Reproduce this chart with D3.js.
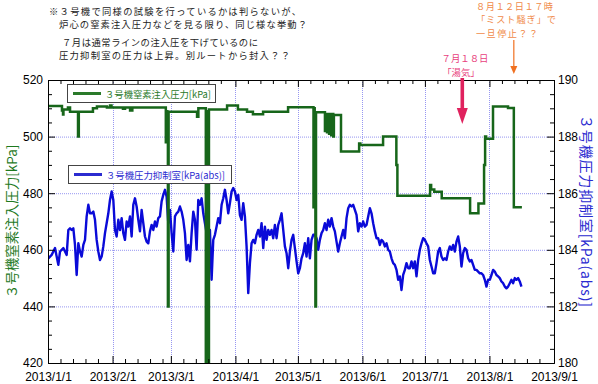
<!DOCTYPE html>
<html><head><meta charset="utf-8">
<script src="https://cdn.jsdelivr.net/npm/d3@7"></script>
<style>body{margin:0;background:#fff}svg{display:block}</style>
</head><body>
<svg id="c" width="598" height="384"></svg>
<script>
// ---------------- data ----------------
const monthTicks = ["2013-01-01","2013-02-01","2013-03-01","2013-04-01","2013-05-01","2013-06-01","2013-07-01","2013-08-01","2013-09-01"];
const minorDays = [7,13,19,25];
const leftTicks = [420,440,460,480,500,520];
const rightTicks = [180,182,184,186,188,190];

const greenName = "３号機窒素注入圧力[kPa]";
const blueName = "３号機圧力抑制室[kPa(abs)]";

// 3号機 窒素注入圧力 [kPa] (step line)
const greenDates = [
 "2013-01-01 00","2013-01-07 17","2013-01-08 05","2013-01-08 10","2013-01-10 14","2013-01-11 14",
 "2013-01-15 10","2013-01-15 19","2013-01-22 14","2013-01-24 12","2013-01-29 07","2013-01-30 19",
 "2013-01-31 12","2013-02-06 00","2013-02-07 00","2013-02-09 10","2013-02-10 12",
 "2013-02-26 14","2013-02-27 00","2013-02-27 07","2013-02-27 14","2013-02-27 22",
 "2013-03-13 14","2013-03-14 05","2013-03-17 19","2013-03-18 07","2013-03-18 19","2013-03-19 07",
 "2013-03-28 00","2013-04-02 05","2013-04-06 14","2013-04-09 10","2013-04-14 07","2013-04-26 07",
 "2013-05-08 12","2013-05-08 19","2013-05-09 02","2013-05-09 10","2013-05-09 17",
 "2013-05-14 00","2013-05-14 12","2013-05-15 00","2013-05-15 12","2013-05-16 00","2013-05-16 12",
 "2013-05-17 00","2013-05-17 12","2013-05-18 00","2013-05-18 07",
 "2013-05-21 17","2013-05-30 10","2013-05-31 00","2013-06-10 22","2013-06-17 07","2013-06-17 19",
 "2013-07-03 12","2013-07-04 00","2013-07-05 12","2013-07-09 02","2013-07-22 17","2013-07-26 17",
 "2013-07-29 10","2013-07-29 22","2013-07-30 10","2013-08-02 17","2013-08-09 22","2013-08-12 17",
 "2013-08-16 14"
];
const greenValues = [
 510.8,509.2,507.8,509.6,510.3,508.8,
 500,508.8,510,510.6,510.3,511,
 510.3,509.8,510.3,509.2,510.3,
 498,509,498,440,508.8,
 507,510,400,509,400,509.6,
 511,509.6,508.8,507.9,508.8,510.4,
 475,510,475,440,508.6,
 502,508,501.5,508,501,508,
 500.5,508,500,507.6,
 494.7,497.6,497.0,500,490,479.1,
 482.9,481.3,480.5,478.2,472.9,476.4,
 490,500,499.2,510.6,510.1,475,
 475
];

// 3号機 圧力抑制室 [kPa(abs)] – read every ~19.2 h
const blueStart = "2013-01-01 04";
const blueStepHours = 19.2;
const blueValues = [
 183.70,183.76,183.82,183.94,184.06,183.76,183.47,183.94,184.00,184.06,183.94,183.82,
 184.70,184.76,184.70,184.76,184.17,183.11,184.23,183.94,183.76,184.17,184.35,185.18,
 185.59,185.29,185.29,185.35,185.06,184.35,183.94,183.64,183.76,184.12,184.59,184.94,
 185.29,185.76,186.06,185.76,184.70,184.47,185.06,184.70,185.12,184.59,184.35,185.00,
 184.82,185.18,184.47,185.59,185.82,185.53,185.06,184.65,185.41,184.94,184.47,184.29,
 184.23,184.65,184.88,184.70,185.00,184.82,185.12,185.18,185.71,185.94,186.12,185.88,
 184.94,185.41,184.59,183.94,
 185.18,185.29,185.35,185.53,185.35,185.06,184.59,183.64,184.17,183.59,184.59,185.35,
 185.06,184.00,185.76,185.59,185.82,185.29,184.94,184.59,184.00,184.70,182.94,184.35,
 184.53,184.82,185.12,184.94,185.59,185.82,186.12,185.76,185.29,185.65,186.06,186.18,
 186.06,185.76,185.94,185.23,185.06,185.65,185.18,184.12,182.47,183.53,184.23,184.35,
 184.23,184.53,184.70,184.47,184.94,184.06,184.82,184.35,184.70,184.53,184.70,184.41,
 184.88,184.41,184.88,185.06,185.29,184.70,184.12,183.88,183.35,183.94,184.35,184.53,
 184.06,183.59,183.17,183.35,183.70,183.88,
 184.23,183.76,184.41,183.70,184.35,184.53,184.53,184.41,184.00,184.35,184.59,184.70,
 184.94,184.70,185.06,184.82,185.12,184.82,184.65,184.29,183.94,184.23,184.47,184.70,
 184.41,185.12,185.47,185.59,185.53,185.59,185.41,185.23,184.65,184.94,184.82,185.00,
 184.82,184.88,185.18,185.47,185.29,184.94,184.65,184.41,184.41,184.17,184.35,184.29,
 184.12,184.23,184.00,183.94,183.70,183.53,183.47,183.29,182.94,183.06,182.58,183.11,
 183.29,183.53,183.35,183.35,183.59,183.35,183.59,183.06,183.64,184.00,184.23,184.41,
 184.35,184.23,184.12,183.64,183.41,183.17,
 183.17,183.53,183.94,184.06,183.76,183.64,183.70,183.64,183.94,184.12,184.00,184.17,
 183.94,184.29,184.47,184.12,183.41,183.88,184.06,184.00,183.70,183.59,183.64,183.47,
 183.29,183.29,183.23,183.17,183.17,183.11,182.94,182.70,182.94,182.94,183.11,183.29,
 183.23,183.11,183.06,183.00,182.88,182.82,182.70,182.64,182.70,182.82,182.94,182.82,
 183.00,182.94,183.00,182.88,182.70
];

const noteLines = [
 "※３号機で同様の試験を行っているかは判らないが、",
 "炉心の窒素注入圧力などを見る限り、同じ様な挙動？",
 "７月は通常ラインの注入圧を下げているのに",
 "圧力抑制室の圧力は上昇。別ルートから封入？？"
];
const mistLines = ["８月１２日１７時","「ミスト騒ぎ」で","一旦停止？？"];
const mistDate = "2013-08-12 17";
const steamLines = ["７月１８日","「湯気」"];
const steamDate = "2013-07-18 00";

// ---------------- chart ----------------
const parseH = d3.timeParse("%Y-%m-%d %H");
const parseD = d3.timeParse("%Y-%m-%d");
const svg = d3.select("#c");
const L = 48, R = 554, T = 80, B = 363;
const cjk = "'Noto Sans CJK JP','Noto Sans',sans-serif";
const latin = "'Liberation Sans',Arial,sans-serif";

const months = monthTicks.map(parseD);
const x = d3.scaleTime().domain([months[0], months[months.length-1]]).range([L, R]);
const yL = d3.scaleLinear().domain([420,520]).range([B, T]);
const yR = d3.scaleLinear().domain([180,190]).range([B, T]);

const minorX = [];
months.slice(0,-1).forEach(m => minorDays.forEach(d => minorX.push(new Date(m.getFullYear(), m.getMonth(), d))));
const minorL = d3.range(420, 520.1, 5).filter(v => !leftTicks.includes(v));
const minorR = d3.range(180, 190.01, 0.5).filter(v => !rightTicks.includes(v));

// grid
const grid = svg.append("g").attr("stroke","#8c8cf0").attr("stroke-width",1).attr("stroke-dasharray","1,1").attr("opacity",0.9);
grid.selectAll("line.h").data(leftTicks.slice(1,-1)).join("line")
  .attr("x1",L).attr("x2",R).attr("y1",d=>yL(d)+0.5).attr("y2",d=>yL(d)+0.5);
grid.selectAll("line.v").data(months.slice(1,-1)).join("line")
  .attr("y1",T).attr("y2",B).attr("x1",d=>Math.round(x(d))+0.5).attr("x2",d=>Math.round(x(d))+0.5);

// clip
svg.append("clipPath").attr("id","pc").append("rect").attr("x",L).attr("y",T).attr("width",R-L).attr("height",B-T);

// blue line
const t0 = parseH(blueStart);
const blueData = blueValues.map((v,i)=>({d:new Date(t0.getTime()+i*blueStepHours*3600e3), v}));
svg.append("path").datum(blueData).attr("clip-path","url(#pc)")
  .attr("fill","none").attr("stroke","#0a0ad8").attr("stroke-width",2.4).attr("stroke-linejoin","round")
  .attr("d", d3.line().x(d=>x(d.d)).y(d=>yR(d.v)));

// green line
const greenData = greenDates.map((s,i)=>({d:parseH(s), v:greenValues[i]}));
svg.append("path").datum(greenData).attr("clip-path","url(#pc)")
  .attr("fill","none").attr("stroke","#17661a").attr("stroke-width",2.5)
  .attr("d", d3.line().curve(d3.curveStepAfter).x(d=>x(d.d)).y(d=>yL(d.v)));

// axes
function styleAxis(g){
  g.selectAll("path.domain").attr("stroke","#000");
  g.selectAll(".tick line").attr("stroke","#000");
  g.selectAll("text").attr("font-family",latin).attr("font-size",12).attr("fill","#000");
}
svg.append("g").attr("transform",`translate(0,${B})`)
  .call(d3.axisBottom(x).tickValues(months).tickSize(-7).tickSizeOuter(0).tickPadding(9).tickFormat(d3.timeFormat("%Y/%-m/%-d"))).call(styleAxis);
svg.append("g").attr("transform",`translate(0,${B})`)
  .call(d3.axisBottom(x).tickValues(minorX).tickSize(-4).tickSizeOuter(0).tickFormat("")).call(styleAxis);
svg.append("g").attr("transform",`translate(0,${T})`)
  .call(d3.axisTop(x).tickValues(months).tickSize(-7).tickSizeOuter(0).tickFormat("")).call(styleAxis);
svg.append("g").attr("transform",`translate(0,${T})`)
  .call(d3.axisTop(x).tickValues(minorX).tickSize(-4).tickSizeOuter(0).tickFormat("")).call(styleAxis);
svg.append("g").attr("transform",`translate(${L},0)`)
  .call(d3.axisLeft(yL).tickValues(leftTicks).tickSize(-7).tickSizeOuter(0).tickPadding(5)).call(styleAxis);
svg.append("g").attr("transform",`translate(${L},0)`)
  .call(d3.axisLeft(yL).tickValues(minorL).tickSize(-4).tickSizeOuter(0).tickFormat("")).call(styleAxis);
svg.append("g").attr("transform",`translate(${R},0)`)
  .call(d3.axisRight(yR).tickValues(rightTicks).tickSize(-7).tickSizeOuter(0).tickPadding(4).tickFormat(d3.format("d"))).call(styleAxis);
svg.append("g").attr("transform",`translate(${R},0)`)
  .call(d3.axisRight(yR).tickValues(minorR).tickSize(-4).tickSizeOuter(0).tickFormat("")).call(styleAxis);

// axis titles
svg.append("text").attr("transform",`translate(11,${(T+B)/2}) rotate(-90)`)
  .attr("text-anchor","middle").attr("dominant-baseline","central")
  .attr("font-family",cjk).attr("font-size",13.5).attr("fill","#1f7a1f").text(greenName);
svg.append("text").attr("transform",`translate(587,211) rotate(90)`)
  .attr("text-anchor","middle").attr("dominant-baseline","central")
  .attr("font-family",cjk).attr("font-size",14).attr("fill","#2a2ad0")
  .attr("textLength",192).attr("lengthAdjust","spacing").text(blueName);

// legends
function legend(x0,y0,w,h,color,label,tl){
  const g = svg.append("g");
  g.append("rect").attr("x",x0+0.5).attr("y",y0+0.5).attr("width",w).attr("height",h)
    .attr("fill","#fff").attr("stroke","#444").attr("stroke-width",1);
  g.append("line").attr("x1",x0+6).attr("x2",x0+34).attr("y1",y0+h/2+0.5).attr("y2",y0+h/2+0.5)
    .attr("stroke",color).attr("stroke-width",3);
  g.append("text").attr("x",x0+38).attr("y",y0+h/2+1).attr("dominant-baseline","central")
    .attr("font-family",cjk).attr("font-size",9.5).attr("fill",color)
    .attr("textLength",tl).attr("lengthAdjust","spacingAndGlyphs").text(label);
}
legend(67,84,148,18,"#2a7a2a",greenName,106);
legend(68,165,163,18,"#2b2bd0",blueName,119);

// notes
svg.append("g").selectAll("text").data(noteLines).join("text")
  .attr("x",(d,i)=>[49,59,62,59][i]).attr("y",(d,i)=>[14.5,28,45.5,59][i])
  .attr("font-family",cjk).attr("font-size",9.3).attr("fill","#222")
  .attr("textLength",(d,i)=>[252,248,196,231][i]).attr("lengthAdjust","spacing").text(d=>d);

// mist annotation (orange)
const xm = x(parseH(mistDate));
svg.append("g").selectAll("text").data(mistLines).join("text")
  .attr("x",476).attr("y",(d,i)=>[9.5,23,36.5][i])
  .attr("font-family",cjk).attr("font-size",9.2).attr("fill","#f08a4a")
  .attr("textLength",(d,i)=>[77,80,62][i]).attr("lengthAdjust","spacing").text(d=>d);
svg.append("line").attr("x1",xm).attr("x2",xm).attr("y1",40).attr("y2",68)
  .attr("stroke","#f07020").attr("stroke-width",1.2);
svg.append("path").attr("d",`M${xm-3.5},66 L${xm+3.5},66 L${xm},74 Z`).attr("fill","#f07020");

// steam annotation (pink)
const xs = x(parseH(steamDate));
svg.append("g").selectAll("text").data(steamLines).join("text")
  .attr("x",(d,i)=>[465,461][i]).attr("y",(d,i)=>[62,75.6][i]).attr("text-anchor","middle")
  .attr("font-family",cjk).attr("font-size",9.4).attr("fill","#e8407c").text(d=>d);
svg.append("line").attr("x1",xs+2).attr("x2",xs+2).attr("y1",78).attr("y2",110)
  .attr("stroke","#e0225e").attr("stroke-width",3.6);
svg.append("path").attr("d",`M${xs+2-5.5},108 L${xs+2+5.5},108 L${xs+2},124 Z`).attr("fill","#e0225e");
</script>
</body></html>
